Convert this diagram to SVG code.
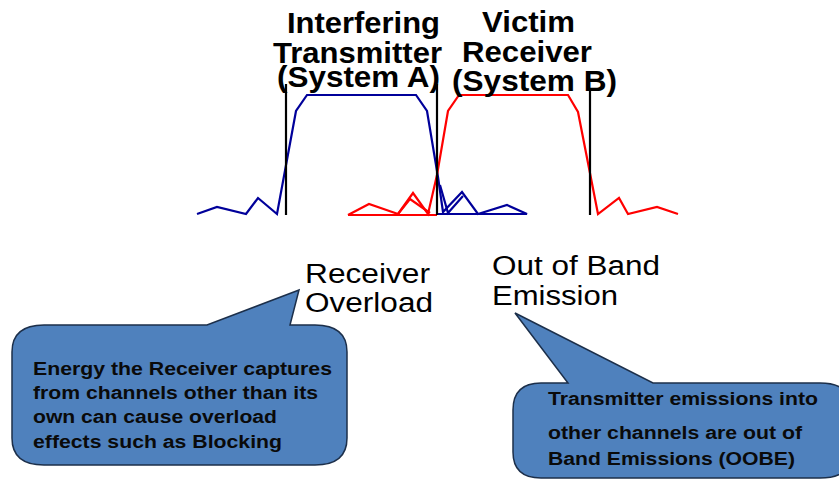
<svg xmlns="http://www.w3.org/2000/svg" width="839" height="480" viewBox="0 0 839 480">
<style>
.title{font-family:"Liberation Sans",Arial,sans-serif;font-weight:bold;font-size:29px;fill:#000}
.lbl{font-family:"Liberation Sans",Arial,sans-serif;font-size:27px;fill:#000}
.ct{font-family:"Liberation Sans",Arial,sans-serif;font-weight:bold;font-size:18px;fill:#0a0a0a}
.bubble{fill:#4F81BD;stroke:#1c2f4a;stroke-width:1.5}
.blue{fill:none;stroke:#00009A;stroke-width:2.2;stroke-linejoin:miter}
.red{fill:none;stroke:#FF0000;stroke-width:2.2}
.mark{stroke:#000;stroke-width:2.2}
</style>
<rect width="839" height="480" fill="#fff"/>
<g id="spectra">
<polyline class="blue" points="197,214 217,207 246,214 258,198 277,214 296,111 307,95 416,95 427,111 438,177 443,212 462,192 478,214 507,205 527,214 438,214"/>
<polyline class="blue" points="440,185 448,213 463,196"/>
<polyline class="red" points="348,215 369,204 398,214 413,193 428,214 437,175 448,111 459,95 568,95 578,112 598,214 619,198 628,214 657,207 678,214"/>
<polyline class="red" points="348,215 437,215"/>
<polyline class="red" points="398,214 410,199 430,213"/>
</g>
<g id="band-edges">
<line class="mark" x1="286" y1="84" x2="286" y2="215"/>
<line class="mark" x1="437" y1="84" x2="437" y2="215"/>
<line class="mark" x1="590" y1="90" x2="590" y2="215"/>
</g>
<g id="interferer">
<text class="title" x="287" y="33" textLength="153" lengthAdjust="spacingAndGlyphs">Interfering</text>
<text class="title" x="273" y="63" textLength="169" lengthAdjust="spacingAndGlyphs">Transmitter</text>
<text class="title" x="277" y="87" textLength="163" lengthAdjust="spacingAndGlyphs">(System A)</text>
</g>
<g id="victim">
<text class="title" x="482" y="32" textLength="93" lengthAdjust="spacingAndGlyphs">Victim</text>
<text class="title" x="462" y="62" textLength="130" lengthAdjust="spacingAndGlyphs">Receiver</text>
<text class="title" x="452" y="91" textLength="165" lengthAdjust="spacingAndGlyphs">(System B)</text>
</g>
<g id="receiver-overload">
<text class="lbl" x="305" y="283" textLength="125" lengthAdjust="spacingAndGlyphs">Receiver</text>
<text class="lbl" x="305" y="312" textLength="128" lengthAdjust="spacingAndGlyphs">Overload</text>
</g>
<g id="oobe-label">
<text class="lbl" x="492" y="275" textLength="168" lengthAdjust="spacingAndGlyphs">Out of Band</text>
<text class="lbl" x="492" y="305" textLength="126" lengthAdjust="spacingAndGlyphs">Emission</text>
</g>
<g id="callout-overload">
<path class="bubble" d="M44,325 L207,325 L299,290 L290,325 L315,325 Q347,325 347,352 L347,438 Q347,465 315,465 L44,465 Q12,465 12,438 L12,352 Q12,325 44,325 Z"/>
<text class="ct" x="33" y="375" textLength="299" lengthAdjust="spacingAndGlyphs">Energy the Receiver captures</text>
<text class="ct" x="33" y="399" textLength="285" lengthAdjust="spacingAndGlyphs">from channels other than its</text>
<text class="ct" x="33" y="423" textLength="244" lengthAdjust="spacingAndGlyphs">own can cause overload</text>
<text class="ct" x="33" y="448" textLength="249" lengthAdjust="spacingAndGlyphs">effects such as Blocking</text>
</g>
<g id="callout-oobe">
<path class="bubble" d="M541,383 L568,383 L515,313 L653,383 L820,383 Q852,383 852,410 L852,452 Q852,478 820,478 L541,478 Q513,478 513,452 L513,410 Q513,383 541,383 Z"/>
<text class="ct" x="548" y="405" textLength="270" lengthAdjust="spacingAndGlyphs">Transmitter emissions into</text>
<text class="ct" x="548" y="439" textLength="254" lengthAdjust="spacingAndGlyphs">other channels are out of</text>
<text class="ct" x="548" y="465" textLength="247" lengthAdjust="spacingAndGlyphs">Band Emissions (OOBE)</text>
</g>
</svg>
